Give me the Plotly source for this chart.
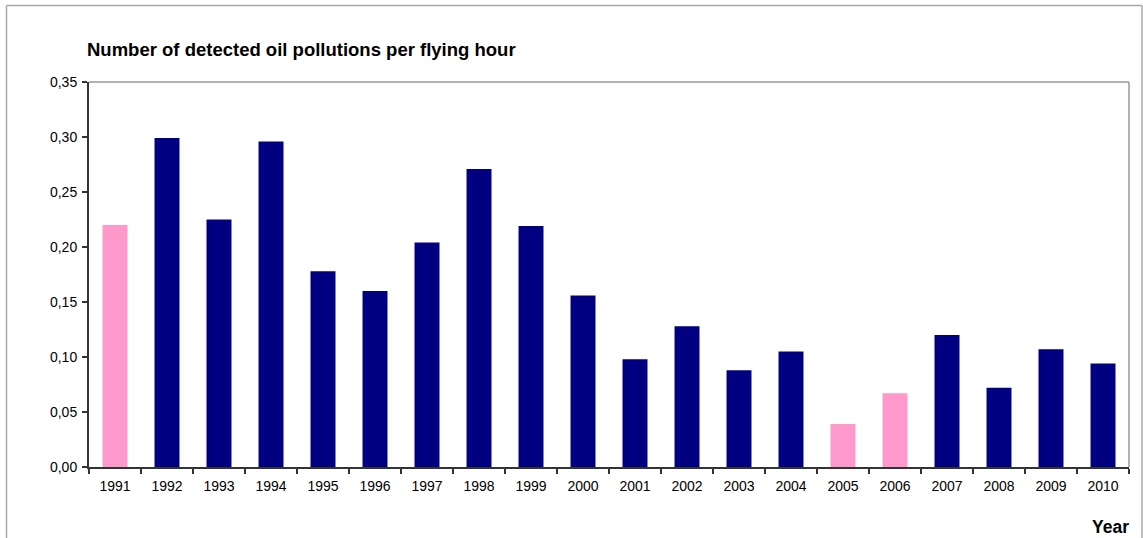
import plotly.graph_objects as go

years = [str(y) for y in range(1991, 2011)]
values = [0.220, 0.299, 0.225, 0.296, 0.178, 0.160, 0.204, 0.271, 0.219, 0.156,
          0.098, 0.128, 0.088, 0.105, 0.039, 0.067, 0.120, 0.072, 0.107, 0.094]
highlight_years = ["1991", "2005", "2006"]
y_ticks = [0, 0.05, 0.10, 0.15, 0.20, 0.25, 0.30, 0.35]

NAVY = "#000080"
PINK = "#FF99CC"
colors = [PINK if y in highlight_years else NAVY for y in years]

W, H = 1143, 538
L, R, T, B = 89, 14, 82, 71
pw = W - L - R
ph = H - T - B

def px_x(px):
    return (px - L) / pw

def px_y(py):
    return (H - B - py) / ph

fig = go.Figure(go.Bar(
    x=years, y=values, marker=dict(color=colors, line=dict(width=0)),
    hoverinfo="x+y",
))

font = "Liberation Sans, Arial, sans-serif"

fig.update_layout(
    width=W, height=H,
    margin=dict(l=L, r=R, t=T, b=B, pad=0),
    paper_bgcolor="white", plot_bgcolor="white",
    bargap=0.52,
    separators=",.",
    showlegend=False,
    font=dict(family=font, color="#000000", size=14),
    xaxis=dict(
        type="category", tickson="boundaries", ticks="outside", ticklen=5,
        tickcolor="#333333", tickwidth=1.5, showline=True, linecolor="#333333",
        linewidth=2, showgrid=False, zeroline=False,
        tickfont=dict(size=14, family=font), ticklabelstandoff=5,
    ),
    yaxis=dict(
        range=[0, 0.35], tickvals=y_ticks, tickformat=".2f", ticks="outside",
        ticklen=5, tickcolor="#333333", tickwidth=1.5, showline=True,
        linecolor="#333333", linewidth=2, showgrid=False, zeroline=False,
        tickfont=dict(size=14, family=font), ticklabelstandoff=2,
    ),
    annotations=[
        dict(text="<b>Number of detected oil pollutions per flying hour</b>",
             xref="paper", yref="paper", x=px_x(85), y=px_y(50),
             xanchor="left", yanchor="middle", showarrow=False,
             font=dict(size=18.5, family=font, color="#000000")),
        dict(text="<b>Year</b>",
             xref="paper", yref="paper", x=px_x(1131), y=px_y(527),
             xanchor="right", yanchor="middle", showarrow=False,
             font=dict(size=17.5, family=font, color="#000000")),
    ],
    shapes=[
        # plot area top and right borders
        dict(type="line", xref="paper", yref="paper", x0=0, x1=1, y0=1, y1=1,
             line=dict(color="#999999", width=1.5)),
        dict(type="line", xref="paper", yref="paper", x0=1, x1=1, y0=0, y1=1,
             line=dict(color="#999999", width=1.5)),
        # outer frame
        dict(type="line", xref="paper", yref="paper", x0=px_x(6.5), x1=px_x(1142),
             y0=px_y(5.5), y1=px_y(5.5), line=dict(color="#aaaaaa", width=1.5)),
        dict(type="line", xref="paper", yref="paper", x0=px_x(6.5), x1=px_x(6.5),
             y0=px_y(5.5), y1=px_y(540), line=dict(color="#aaaaaa", width=1.5)),
        dict(type="line", xref="paper", yref="paper", x0=px_x(1142), x1=px_x(1142),
             y0=px_y(5.5), y1=px_y(540), line=dict(color="#aaaaaa", width=1.5)),
    ],
)

fig.write_html("out.html")
